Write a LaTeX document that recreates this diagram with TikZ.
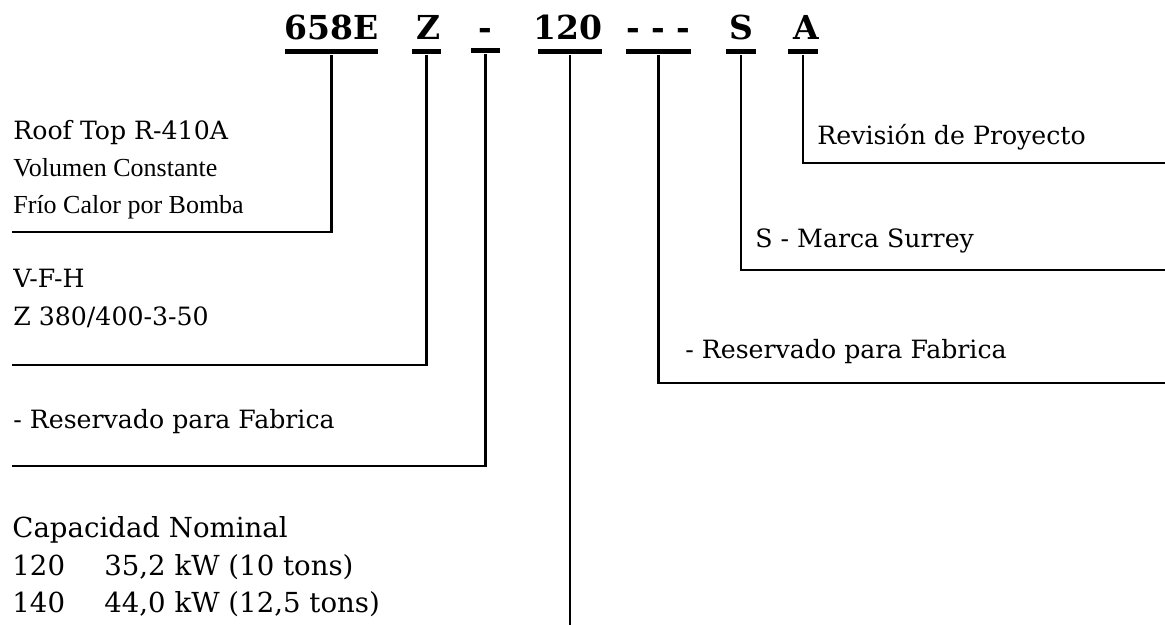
\documentclass[tikz,border=0pt]{standalone}
\usepackage{fontspec}
\setmainfont{DejaVu Serif}
\newfontfamily\timesfont{Liberation Serif}
\newcommand\dsh{\makebox[12.5pt]{-}}
\begin{document}
\begin{tikzpicture}[x=0.5pt,y=-0.5pt,
  code/.style={anchor=base,inner sep=0pt,font=\bfseries\fontsize{16.5}{20}\selectfont},
  bar/.style={fill=black,inner sep=0pt,minimum height=2.5pt},
  lbl/.style={anchor=base west,inner sep=0pt,font=\fontsize{12.6}{15}\selectfont},
  lblt/.style={anchor=base west,inner sep=0pt,font=\timesfont\fontsize{13}{15}\selectfont},
  capl/.style={lbl,font=\fontsize{13.8}{16}\selectfont},
  lead/.style={line width=1.3pt}]
\useasboundingbox (0,0) rectangle (1165,625);
        \node[code](c1)at(331.5,40){658E};
        \node[code](c2)at(429,40){Z};
        \node[code](c3)at(485,40){-};
        \node[code](c4)at(568,40){120};
        \node[code](c5)at(658.5,40){\dsh\dsh\dsh};
        \node[code](c6)at(741.5,40){S};
        \node[code](c7)at(806.5,40){A};
        \node[bar,minimum width=46.5pt](b1)at(331.5,52){};
        \node[bar,minimum width=14.5pt](b2)at(426.5,52){};
        \node[bar,minimum width=14.5pt](b3)at(485.5,51){};
        \node[bar,minimum width=32pt](b4)at(570,52){};
        \node[bar,minimum width=32.5pt](b5)at(658.5,52){};
        \node[bar,minimum width=15pt](b6)at(741,52){};
        \node[bar,minimum width=15pt](b7)at(803,52){};
        \node[lbl](roof)at(13,140){Roof Top R-410A};
        \node[lblt](vol)at(13,177){Volumen Constante};
        \node[lblt](frio)at(13,214){Frío Calor por Bomba};
        \node[lbl](vfh)at(13,287){V-F-H};
        \node[lbl](volt)at(13,325){Z 380/400-3-50};
        \node[lbl](res1)at(13,428){- Reservado para Fabrica};
        \node[capl](capn)at(12,537){Capacidad Nominal};
        \node[capl](cap1)at(12,575){\makebox[46pt][l]{120}35,2 kW (10 tons)};
        \node[capl](cap2)at(12,612){\makebox[46pt][l]{140}44,0 kW (12,5 tons)};
        \node[lbl](rev)at(817,145){Revisión de Proyecto};
        \node[lbl](marca)at(755,248){S - Marca Surrey};
        \node[lbl](res2)at(685,358){- Reservado para Fabrica};
        \coordinate(e1)at(12,232);
        \coordinate(e2)at(12,365);
        \coordinate(e3)at(12,466);
        \coordinate(e4)at(570,625);
        \coordinate(e5)at(1165,383);
        \coordinate(e6)at(1165,270);
        \coordinate(e7)at(1165,163);
        \draw[lead](b1.south)|-(e1);
        \draw[lead](b2.south)|-(e2);
        \draw[lead](b3.south)|-(e3);
        \draw[lead](b4.south)--(e4);
        \draw[lead](b5.south)|-(e5);
        \draw[lead](b6.south)|-(e6);
        \draw[lead](b7.south)|-(e7);
\end{tikzpicture}
\end{document}
